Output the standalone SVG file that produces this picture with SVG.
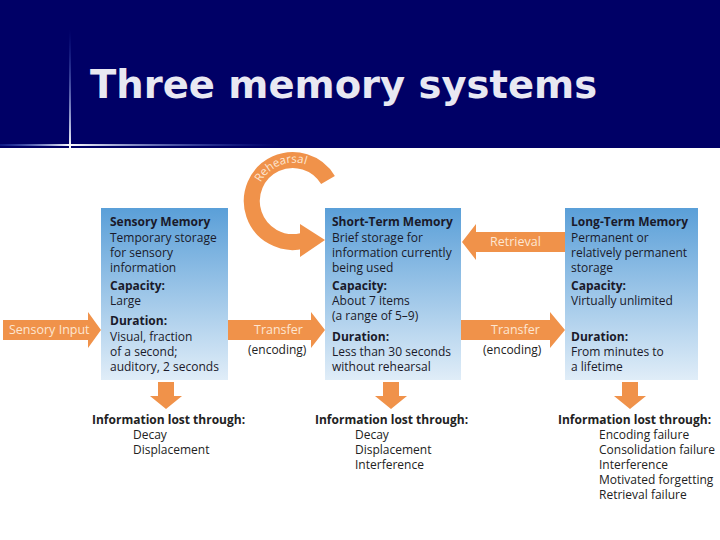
<svg xmlns="http://www.w3.org/2000/svg" width="720" height="540" viewBox="0 0 720 540">
<defs>
<linearGradient id="bg" x1="0" y1="0" x2="0" y2="1"><stop offset="0" stop-color="#5a9fd8"/><stop offset="1" stop-color="#e0edf8"/></linearGradient>
<linearGradient id="hl" x1="0" y1="0" x2="1" y2="0"><stop offset="0" stop-color="#3355cc" stop-opacity="0.3"/><stop offset="0.25" stop-color="#ffffff"/><stop offset="1" stop-color="#3355cc" stop-opacity="0"/></linearGradient>
<linearGradient id="vl" x1="0" y1="0" x2="0" y2="1"><stop offset="0" stop-color="#3355cc" stop-opacity="0"/><stop offset="1" stop-color="#ffffff"/></linearGradient>
<path id="rp" d="M257,192 A38,38 0 0 1 331,192"/>
</defs>
<style>
.t{font-family:"Open Sans","Liberation Sans",sans-serif;font-size:12px;fill:#1a1a2a}
.b{font-weight:bold}
.w{font-family:"Open Sans","Liberation Sans",sans-serif;font-size:12.5px;fill:#fde6d2}
.o{fill:#f0924a}
.k{font-family:"Open Sans","Liberation Sans",sans-serif;font-size:12px;fill:#222}
</style>
<rect width="720" height="540" fill="#fff"/>
<rect width="720" height="148" fill="#000066"/>
<rect x="69" y="30" width="2" height="118" fill="url(#vl)"/>
<rect x="0" y="144" width="280" height="2" fill="url(#hl)"/>
<text x="90" y="98" font-family="DejaVu Sans,Verdana,sans-serif" font-weight="bold" font-size="38.5" fill="#e8e8f2">Three memory systems</text>

<g id="connectors">
<path class="o" d="M3,320H88V312L101,330L88,348V340H3Z"/>
<text class="w" x="9" y="334">Sensory Input</text>
<path class="o" d="M228,320H311V312L325,330L311,348V340H228Z"/>
<text class="w" x="254" y="334">Transfer</text>
<text class="k" x="248" y="354">(encoding)</text>
<path class="o" d="M461,320H550V312L565,330L550,348V340H461Z"/>
<text class="w" x="491" y="334">Transfer</text>
<text class="k" x="483" y="354">(encoding)</text>
<path class="o" d="M565,232H476V224L462,242L476,260V252H565Z"/>
<text class="w" x="490" y="246">Retrieval</text>
<path d="M328,180 A41,41 0 1 0 302,241" fill="none" stroke="#f0924a" stroke-width="16"/>
<path class="o" d="M300,224L325,240L300,257Z"/>
<text font-family="Open Sans,Liberation Sans,sans-serif" font-size="11.5" fill="#fde6d2"><textPath href="#rp" startOffset="10">Rehearsal</textPath></text>
<path class="o" d="M158,382H174V396H182L166,409L150,396H158Z"/>
<path class="o" d="M383,382H399V396H407L391,409L375,396H383Z"/>
<path class="o" d="M622,382H638V396H646L630,409L614,396H622Z"/>
</g>

<g id="sensory">
<rect x="101" y="208" width="127" height="172" fill="url(#bg)"/>
<text class="t"><tspan x="110" y="226" class="b">Sensory Memory</tspan><tspan x="110" y="242">Temporary storage</tspan><tspan x="110" y="257">for sensory</tspan><tspan x="110" y="272">information</tspan><tspan x="110" y="290" class="b">Capacity:</tspan><tspan x="110" y="305">Large</tspan><tspan x="110" y="325" class="b">Duration:</tspan><tspan x="110" y="341">Visual, fraction</tspan><tspan x="110" y="356">of a second;</tspan><tspan x="110" y="371">auditory, 2 seconds</tspan></text>
</g>
<g id="stm">
<rect x="325" y="208" width="136" height="172" fill="url(#bg)"/>
<text class="t"><tspan x="332" y="226" class="b">Short-Term Memory</tspan><tspan x="332" y="242">Brief storage for</tspan><tspan x="332" y="257">information currently</tspan><tspan x="332" y="272">being used</tspan><tspan x="332" y="290" class="b">Capacity:</tspan><tspan x="332" y="305">About 7 items</tspan><tspan x="332" y="320">(a range of 5–9)</tspan><tspan x="332" y="341" class="b">Duration:</tspan><tspan x="332" y="356">Less than 30 seconds</tspan><tspan x="332" y="371">without rehearsal</tspan></text>
</g>
<g id="ltm">
<rect x="565" y="208" width="133" height="172" fill="url(#bg)"/>
<text class="t"><tspan x="571" y="226" class="b">Long-Term Memory</tspan><tspan x="571" y="242">Permanent or</tspan><tspan x="571" y="257">relatively permanent</tspan><tspan x="571" y="272">storage</tspan><tspan x="571" y="290" class="b">Capacity:</tspan><tspan x="571" y="305">Virtually unlimited</tspan><tspan x="571" y="341" class="b">Duration:</tspan><tspan x="571" y="356">From minutes to</tspan><tspan x="571" y="371">a lifetime</tspan></text>
</g>
<g id="loss1">
<text class="k"><tspan x="92" y="424" class="b">Information lost through:</tspan><tspan x="133" y="439">Decay</tspan><tspan x="133" y="454">Displacement</tspan></text>
</g>
<g id="loss2">
<text class="k"><tspan x="315" y="424" class="b">Information lost through:</tspan><tspan x="355" y="439">Decay</tspan><tspan x="355" y="454">Displacement</tspan><tspan x="355" y="469">Interference</tspan></text>
</g>
<g id="loss3">
<text class="k"><tspan x="558" y="424" class="b">Information lost through:</tspan><tspan x="599" y="439">Encoding failure</tspan><tspan x="599" y="454">Consolidation failure</tspan><tspan x="599" y="469">Interference</tspan><tspan x="599" y="484">Motivated forgetting</tspan><tspan x="599" y="499">Retrieval failure</tspan></text>
</g>
</svg>
